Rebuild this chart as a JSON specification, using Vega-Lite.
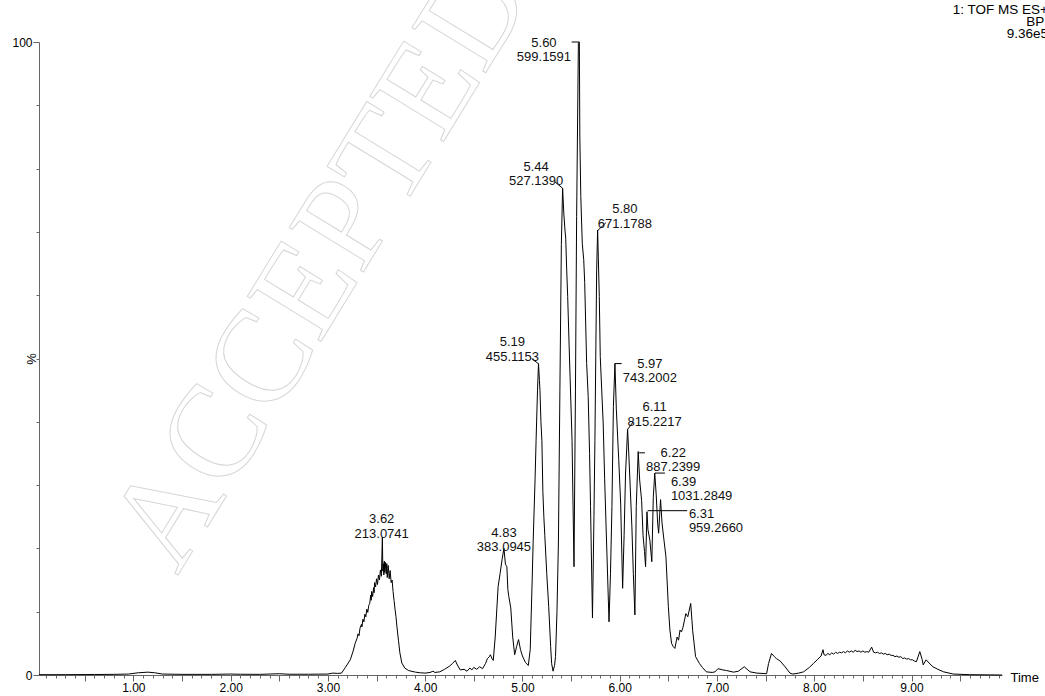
{
  "$schema": "https://vega.github.io/schema/vega-lite/v6.json",
  "width": 963,
  "height": 633,
  "autosize": {"type": "none"},
  "padding": {"left": 39, "top": 42, "right": 43, "bottom": 21},
  "background": "white",
  "config": {"view": {"stroke": null}, "font": "Liberation Sans"},
  "title": {
    "text": ["1: TOF MS ES+\u00a0\u200a", "BPI", "9.36e5"],
    "orient": "bottom",
    "anchor": "end",
    "frame": "group",
    "align": "right",
    "baseline": "top",
    "dx": 46,
    "dy": -690,
    "offset": 0,
    "fontSize": 13.5,
    "fontWeight": "normal",
    "font": "Liberation Sans",
    "color": "black",
    "lineHeight": 12
  },
  "resolve": {"axis": {"x": "independent"}},
  "datasets": {
    "wm": [{"t": 1.45, "v": 15.6, "text": "ACCEPTED"}],
    "trace": [
      {"t": 0.03, "v": 0.05}, {"t": 0.3, "v": 0.05}, {"t": 0.6, "v": 0.08}, {"t": 0.8, "v": 0.1},
      {"t": 0.95, "v": 0.15}, {"t": 1.05, "v": 0.35}, {"t": 1.15, "v": 0.45}, {"t": 1.22, "v": 0.35},
      {"t": 1.3, "v": 0.15}, {"t": 1.5, "v": 0.1}, {"t": 1.8, "v": 0.1}, {"t": 2.0, "v": 0.15},
      {"t": 2.1, "v": 0.12}, {"t": 2.3, "v": 0.1}, {"t": 2.5, "v": 0.2}, {"t": 2.6, "v": 0.12},
      {"t": 2.8, "v": 0.12}, {"t": 3.0, "v": 0.15}, {"t": 3.05, "v": 0.3}, {"t": 3.1, "v": 0.25},
      {"t": 3.14, "v": 0.3}, {"t": 3.18, "v": 1.2}, {"t": 3.23, "v": 2.4}, {"t": 3.26, "v": 3.8},
      {"t": 3.28, "v": 5.0}, {"t": 3.3, "v": 5.8}, {"t": 3.31, "v": 6.5}, {"t": 3.32, "v": 6.2},
      {"t": 3.33, "v": 7.4}, {"t": 3.345, "v": 8.0}, {"t": 3.35, "v": 7.6}, {"t": 3.36, "v": 8.8},
      {"t": 3.37, "v": 8.4}, {"t": 3.38, "v": 9.6}, {"t": 3.39, "v": 9.2}, {"t": 3.4, "v": 10.4},
      {"t": 3.41, "v": 9.9}, {"t": 3.42, "v": 11.0}, {"t": 3.43, "v": 11.3}, {"t": 3.44, "v": 12.6},
      {"t": 3.445, "v": 11.8}, {"t": 3.45, "v": 13.2}, {"t": 3.46, "v": 12.4}, {"t": 3.47, "v": 13.8},
      {"t": 3.475, "v": 13.0}, {"t": 3.48, "v": 14.6}, {"t": 3.49, "v": 13.9}, {"t": 3.5, "v": 15.2},
      {"t": 3.51, "v": 14.3}, {"t": 3.52, "v": 15.8}, {"t": 3.53, "v": 15.0}, {"t": 3.54, "v": 16.6},
      {"t": 3.55, "v": 15.6}, {"t": 3.56, "v": 21.8}, {"t": 3.565, "v": 16.4}, {"t": 3.57, "v": 17.6},
      {"t": 3.575, "v": 15.8}, {"t": 3.58, "v": 18.0}, {"t": 3.585, "v": 16.2}, {"t": 3.59, "v": 17.8},
      {"t": 3.6, "v": 16.0}, {"t": 3.605, "v": 17.6}, {"t": 3.61, "v": 15.4}, {"t": 3.62, "v": 17.3},
      {"t": 3.63, "v": 15.2}, {"t": 3.64, "v": 16.5}, {"t": 3.65, "v": 14.6}, {"t": 3.66, "v": 15.0},
      {"t": 3.67, "v": 13.2}, {"t": 3.68, "v": 11.8}, {"t": 3.69, "v": 10.4}, {"t": 3.7, "v": 9.2},
      {"t": 3.71, "v": 7.6}, {"t": 3.725, "v": 5.5}, {"t": 3.74, "v": 3.5}, {"t": 3.76, "v": 1.9},
      {"t": 3.79, "v": 1.1}, {"t": 3.83, "v": 0.7}, {"t": 3.9, "v": 0.45}, {"t": 3.95, "v": 0.35},
      {"t": 4.0, "v": 0.3}, {"t": 4.05, "v": 0.4}, {"t": 4.08, "v": 0.6}, {"t": 4.1, "v": 0.4},
      {"t": 4.15, "v": 0.5}, {"t": 4.2, "v": 0.9}, {"t": 4.25, "v": 1.4}, {"t": 4.28, "v": 1.8},
      {"t": 4.31, "v": 2.3}, {"t": 4.33, "v": 1.6}, {"t": 4.36, "v": 0.8}, {"t": 4.4, "v": 0.9},
      {"t": 4.43, "v": 0.6}, {"t": 4.46, "v": 1.1}, {"t": 4.48, "v": 0.8}, {"t": 4.5, "v": 1.2},
      {"t": 4.53, "v": 0.9}, {"t": 4.56, "v": 1.3}, {"t": 4.59, "v": 1.0}, {"t": 4.62, "v": 1.8},
      {"t": 4.64, "v": 2.6}, {"t": 4.66, "v": 2.9}, {"t": 4.67, "v": 3.2}, {"t": 4.69, "v": 2.5},
      {"t": 4.7, "v": 2.3}, {"t": 4.72, "v": 6.0}, {"t": 4.75, "v": 14.0}, {"t": 4.77, "v": 16.0},
      {"t": 4.79, "v": 18.2}, {"t": 4.81, "v": 20.0}, {"t": 4.825, "v": 17.5}, {"t": 4.84, "v": 17.1},
      {"t": 4.85, "v": 13.5}, {"t": 4.86, "v": 12.4}, {"t": 4.88, "v": 10.6}, {"t": 4.9, "v": 6.0},
      {"t": 4.92, "v": 3.2}, {"t": 4.94, "v": 4.5}, {"t": 4.96, "v": 5.6}, {"t": 4.98, "v": 4.0},
      {"t": 5.0, "v": 3.0}, {"t": 5.03, "v": 2.0}, {"t": 5.06, "v": 1.5}, {"t": 5.08, "v": 4.0},
      {"t": 5.1, "v": 15.0}, {"t": 5.11, "v": 21.0}, {"t": 5.13, "v": 31.0}, {"t": 5.14, "v": 37.0},
      {"t": 5.155, "v": 45.0}, {"t": 5.165, "v": 49.2}, {"t": 5.175, "v": 46.5}, {"t": 5.18, "v": 45.0},
      {"t": 5.19, "v": 40.0}, {"t": 5.2, "v": 37.0}, {"t": 5.21, "v": 29.0}, {"t": 5.22, "v": 25.0},
      {"t": 5.23, "v": 22.0}, {"t": 5.25, "v": 16.0}, {"t": 5.27, "v": 10.8}, {"t": 5.29, "v": 4.5},
      {"t": 5.3, "v": 1.8}, {"t": 5.315, "v": 0.6}, {"t": 5.33, "v": 1.5}, {"t": 5.34, "v": 2.9},
      {"t": 5.355, "v": 10.0}, {"t": 5.37, "v": 21.0}, {"t": 5.385, "v": 45.0}, {"t": 5.4, "v": 68.0},
      {"t": 5.413, "v": 76.9}, {"t": 5.425, "v": 73.0}, {"t": 5.437, "v": 70.3}, {"t": 5.445, "v": 69.0},
      {"t": 5.455, "v": 64.0}, {"t": 5.465, "v": 59.8}, {"t": 5.48, "v": 52.0}, {"t": 5.49, "v": 47.0},
      {"t": 5.51, "v": 37.0}, {"t": 5.52, "v": 27.0}, {"t": 5.53, "v": 17.1}, {"t": 5.545, "v": 45.0},
      {"t": 5.557, "v": 72.4}, {"t": 5.575, "v": 99.8}, {"t": 5.585, "v": 100.0}, {"t": 5.59, "v": 85.0},
      {"t": 5.6, "v": 75.6}, {"t": 5.615, "v": 68.2}, {"t": 5.63, "v": 65.6}, {"t": 5.64, "v": 62.0},
      {"t": 5.66, "v": 49.2}, {"t": 5.676, "v": 44.0}, {"t": 5.69, "v": 35.0}, {"t": 5.7, "v": 26.6},
      {"t": 5.72, "v": 9.0}, {"t": 5.735, "v": 25.0}, {"t": 5.745, "v": 37.0}, {"t": 5.755, "v": 52.0},
      {"t": 5.763, "v": 64.0}, {"t": 5.773, "v": 70.3}, {"t": 5.78, "v": 66.0}, {"t": 5.79, "v": 59.8},
      {"t": 5.8, "v": 50.3}, {"t": 5.815, "v": 45.0}, {"t": 5.83, "v": 39.8}, {"t": 5.845, "v": 31.0},
      {"t": 5.86, "v": 23.4}, {"t": 5.89, "v": 8.4}, {"t": 5.905, "v": 16.0}, {"t": 5.92, "v": 26.6},
      {"t": 5.935, "v": 42.4}, {"t": 5.951, "v": 49.2}, {"t": 5.965, "v": 42.0}, {"t": 5.99, "v": 34.0},
      {"t": 6.01, "v": 27.0}, {"t": 6.03, "v": 13.7}, {"t": 6.045, "v": 22.0}, {"t": 6.06, "v": 31.9},
      {"t": 6.081, "v": 38.8}, {"t": 6.09, "v": 36.0}, {"t": 6.105, "v": 30.8}, {"t": 6.125, "v": 23.4},
      {"t": 6.14, "v": 16.0}, {"t": 6.156, "v": 9.5}, {"t": 6.17, "v": 26.6}, {"t": 6.19, "v": 35.3},
      {"t": 6.205, "v": 30.8}, {"t": 6.225, "v": 27.6}, {"t": 6.24, "v": 22.0}, {"t": 6.255, "v": 19.5},
      {"t": 6.266, "v": 17.1}, {"t": 6.28, "v": 25.8}, {"t": 6.29, "v": 23.0}, {"t": 6.31, "v": 21.3},
      {"t": 6.33, "v": 17.9}, {"t": 6.345, "v": 28.0}, {"t": 6.36, "v": 31.9}, {"t": 6.375, "v": 28.5},
      {"t": 6.39, "v": 24.0}, {"t": 6.4, "v": 22.4}, {"t": 6.42, "v": 27.7}, {"t": 6.435, "v": 24.0},
      {"t": 6.455, "v": 21.3}, {"t": 6.475, "v": 18.7}, {"t": 6.5, "v": 10.8}, {"t": 6.516, "v": 7.1},
      {"t": 6.533, "v": 5.0}, {"t": 6.55, "v": 4.5}, {"t": 6.567, "v": 4.2}, {"t": 6.59, "v": 6.0},
      {"t": 6.605, "v": 5.5}, {"t": 6.62, "v": 7.1}, {"t": 6.635, "v": 6.8}, {"t": 6.65, "v": 7.5},
      {"t": 6.68, "v": 9.7}, {"t": 6.7, "v": 9.2}, {"t": 6.73, "v": 11.3}, {"t": 6.75, "v": 7.0},
      {"t": 6.78, "v": 2.9}, {"t": 6.82, "v": 1.8}, {"t": 6.85, "v": 1.2}, {"t": 6.89, "v": 0.5},
      {"t": 6.95, "v": 0.4}, {"t": 6.98, "v": 0.5}, {"t": 7.01, "v": 1.0}, {"t": 7.06, "v": 0.8},
      {"t": 7.1, "v": 0.7}, {"t": 7.17, "v": 0.45}, {"t": 7.22, "v": 0.6}, {"t": 7.28, "v": 1.3},
      {"t": 7.34, "v": 0.5}, {"t": 7.41, "v": 0.3}, {"t": 7.51, "v": 0.2}, {"t": 7.53, "v": 1.8},
      {"t": 7.56, "v": 3.4}, {"t": 7.59, "v": 2.9}, {"t": 7.61, "v": 2.6}, {"t": 7.63, "v": 2.4},
      {"t": 7.65, "v": 2.2}, {"t": 7.7, "v": 1.3}, {"t": 7.75, "v": 0.3}, {"t": 7.78, "v": 0.15},
      {"t": 7.84, "v": 0.3}, {"t": 7.89, "v": 0.5}, {"t": 7.95, "v": 1.2}, {"t": 7.99, "v": 1.8},
      {"t": 8.03, "v": 2.4}, {"t": 8.07, "v": 3.0}, {"t": 8.09, "v": 4.0}, {"t": 8.1, "v": 3.2},
      {"t": 8.12, "v": 3.1}, {"t": 8.14, "v": 3.4}, {"t": 8.16, "v": 3.2}, {"t": 8.18, "v": 3.5},
      {"t": 8.2, "v": 3.3}, {"t": 8.22, "v": 3.6}, {"t": 8.24, "v": 3.4}, {"t": 8.26, "v": 3.6},
      {"t": 8.28, "v": 3.5}, {"t": 8.3, "v": 3.7}, {"t": 8.32, "v": 3.5}, {"t": 8.34, "v": 3.8},
      {"t": 8.36, "v": 3.6}, {"t": 8.38, "v": 3.8}, {"t": 8.4, "v": 3.6}, {"t": 8.42, "v": 3.9},
      {"t": 8.44, "v": 3.7}, {"t": 8.46, "v": 3.8}, {"t": 8.48, "v": 3.6}, {"t": 8.5, "v": 3.8},
      {"t": 8.52, "v": 3.6}, {"t": 8.54, "v": 3.7}, {"t": 8.56, "v": 3.6}, {"t": 8.59, "v": 4.4},
      {"t": 8.61, "v": 3.6}, {"t": 8.63, "v": 3.5}, {"t": 8.65, "v": 3.6}, {"t": 8.67, "v": 3.4},
      {"t": 8.69, "v": 3.5}, {"t": 8.71, "v": 3.3}, {"t": 8.73, "v": 3.4}, {"t": 8.75, "v": 3.2},
      {"t": 8.77, "v": 3.3}, {"t": 8.79, "v": 3.1}, {"t": 8.81, "v": 3.1}, {"t": 8.83, "v": 2.9},
      {"t": 8.85, "v": 3.0}, {"t": 8.87, "v": 2.8}, {"t": 8.89, "v": 2.9}, {"t": 8.91, "v": 2.6},
      {"t": 8.93, "v": 2.7}, {"t": 8.95, "v": 2.5}, {"t": 8.97, "v": 2.6}, {"t": 8.99, "v": 2.4},
      {"t": 9.01, "v": 2.4}, {"t": 9.03, "v": 2.2}, {"t": 9.05, "v": 2.1}, {"t": 9.085, "v": 3.7},
      {"t": 9.11, "v": 2.4}, {"t": 9.12, "v": 1.6}, {"t": 9.15, "v": 2.4}, {"t": 9.18, "v": 1.9},
      {"t": 9.22, "v": 1.3}, {"t": 9.27, "v": 0.9}, {"t": 9.33, "v": 0.5}, {"t": 9.43, "v": 0.15},
      {"t": 9.6, "v": 0.05}, {"t": 9.93, "v": 0.0}
    ],
    "labels": [
      {"t": 3.553, "v": 24.6, "label": "3.62\n213.0741", "side": "c"},
      {"t": 4.81, "v": 22.5, "label": "4.83\n383.0945", "side": "c"},
      {"t": 4.897, "v": 52.6, "label": "5.19\n455.1153", "side": "c"},
      {"t": 5.141, "v": 80.3, "label": "5.44\n527.1390", "side": "c"},
      {"t": 5.221, "v": 99.9, "label": "5.60\n599.1591", "side": "c"},
      {"t": 6.053, "v": 73.6, "label": "5.80\n671.1788", "side": "c"},
      {"t": 6.31, "v": 49.2, "label": "5.97\n743.2002", "side": "c"},
      {"t": 6.359, "v": 42.3, "label": "6.11\n815.2217", "side": "c"},
      {"t": 6.55, "v": 35.1, "label": "6.22\n887.2399", "side": "c"},
      {"t": 6.526, "v": 30.5, "label": "6.39\n1031.2849", "side": "l"},
      {"t": 6.711, "v": 25.5, "label": "6.31\n959.2660", "side": "l"}
    ],
    "leaders": [
      {"t": 5.506, "v": 100.0, "t2": 5.584, "v2": 100.0},
      {"t": 5.334, "v": 77.9, "t2": 5.413, "v2": 76.9},
      {"t": 5.858, "v": 71.45, "t2": 5.773, "v2": 70.2},
      {"t": 5.095, "v": 50.0, "t2": 5.162, "v2": 49.2},
      {"t": 5.951, "v": 49.2, "t2": 6.02, "v2": 49.2},
      {"t": 6.139, "v": 40.0, "t2": 6.081, "v2": 38.8},
      {"t": 6.2, "v": 35.1, "t2": 6.259, "v2": 35.1},
      {"t": 6.362, "v": 31.9, "t2": 6.465, "v2": 31.9},
      {"t": 6.287, "v": 25.96, "t2": 6.694, "v2": 25.96}
    ]
  },
  "layer": [
    {
      "data": {"name": "wm"},
      "mark": {"type": "text", "font": "Liberation Serif", "fontSize": 132, "angle": -58.5, "align": "left", "baseline": "alphabetic", "fillOpacity": 0, "stroke": "#d6d6d6", "strokeWidth": 1},
      "encoding": {
        "x": {"field": "t", "type": "quantitative", "axis": null},
        "y": {"field": "v", "type": "quantitative", "title": "%"},
        "text": {"field": "text"}
      }
    },
    {
      "data": {"name": "trace"},
      "mark": {"type": "line", "color": "black", "strokeWidth": 1, "interpolate": "linear"},
      "encoding": {
        "x": {
          "field": "t", "type": "quantitative",
          "scale": {"domain": [0.03, 9.93], "nice": false, "zero": false},
          "axis": {
            "orient": "bottom",
            "values": [0.1,0.2,0.3,0.4,0.5,0.6,0.7,0.8,0.9,1,1.1,1.2,1.3,1.4,1.5,1.6,1.7,1.8,1.9,2,2.1,2.2,2.3,2.4,2.5,2.6,2.7,2.8,2.9,3,3.1,3.2,3.3,3.4,3.5,3.6,3.7,3.8,3.9,4,4.1,4.2,4.3,4.4,4.5,4.6,4.7,4.8,4.9,5,5.1,5.2,5.3,5.4,5.5,5.6,5.7,5.8,5.9,6,6.1,6.2,6.3,6.4,6.5,6.6,6.7,6.8,6.9,7,7.1,7.2,7.3,7.4,7.5,7.6,7.7,7.8,7.9,8,8.1,8.2,8.3,8.4,8.5,8.6,8.7,8.8,8.9,9,9.1,9.2,9.3,9.4,9.5,9.6,9.7,9.8,9.9],
            "title": null,
            "labels": false,
            "tickSize": 3,
            "tickColor": "#666666", "domainColor": "#666666", "grid": false
          }
        },
        "y": {
          "field": "v", "type": "quantitative",
          "scale": {"domain": [0, 100], "nice": false, "zero": true},
          "axis": {
            "values": [0,10,20,30,40,50,60,70,80,90,100],
            "title": "%",
            "titleX": -8, "titleY": 316.5, "titleAlign": "center", "titleBaseline": "middle", "titleAngle": 270,
            "titleFontSize": 13, "titleFontWeight": "normal", "titleColor": "black", "titleFont": "Liberation Sans",
            "labelExpr": "(datum.value == 0 || datum.value == 100) ? '' + datum.value : ''",
            "labelFontSize": 12, "labelColor": "black", "labelFont": "Liberation Sans", "labelPadding": 1,
            "labelFlush": false, "labelOverlap": false, "labelBound": false,
            "tickSize": {"condition": {"test": "datum.value == 0 || datum.value == 100", "value": 6}, "value": 3},
            "tickColor": "#666666", "domainColor": "#666666", "grid": false
          }
        }
      }
    },
    {
      "data": {"name": "leaders"},
      "mark": {"type": "rule", "color": "black", "strokeWidth": 1},
      "encoding": {
        "x": {
          "field": "t", "type": "quantitative",
          "axis": {
            "orient": "bottom",
            "values": [0.5,1,1.5,2,2.5,3,3.5,4,4.5,5,5.5,6,6.5,7,7.5,8,8.5,9,9.5],
            "domain": false,
            "title": "Time",
            "titleX": 971, "titleY": 2, "titleAlign": "left", "titleBaseline": "middle",
            "titleFontSize": 13, "titleFontWeight": "normal", "titleColor": "black", "titleFont": "Liberation Sans",
            "labelExpr": "abs(datum.value - round(datum.value)) < 0.001 ? format(datum.value, '.2f') : ''",
            "labelFontSize": 12, "labelColor": "black", "labelFont": "Liberation Sans", "labelPadding": 1,
            "labelFlush": false, "labelOverlap": false, "labelBound": false,
            "tickSize": 6,
            "tickColor": "#666666", "grid": false
          }
        },
        "x2": {"field": "t2"},
        "y": {"field": "v", "type": "quantitative", "title": "%"},
        "y2": {"field": "v2"}
      }
    },
    {
      "data": {"name": "labels"},
      "transform": [{"filter": "datum.side == 'c'"}],
      "mark": {"type": "text", "align": "center", "baseline": "middle", "lineBreak": "\n", "lineHeight": 14.5, "fontSize": 13, "font": "Liberation Sans", "color": "#111111"},
      "encoding": {
        "x": {"field": "t", "type": "quantitative", "axis": null},
        "y": {"field": "v", "type": "quantitative", "title": "%"},
        "text": {"field": "label"}
      }
    },
    {
      "data": {"name": "labels"},
      "transform": [{"filter": "datum.side == 'l'"}],
      "mark": {"type": "text", "align": "left", "baseline": "middle", "lineBreak": "\n", "lineHeight": 14.5, "fontSize": 13, "font": "Liberation Sans", "color": "#111111"},
      "encoding": {
        "x": {"field": "t", "type": "quantitative", "axis": null},
        "y": {"field": "v", "type": "quantitative", "title": "%"},
        "text": {"field": "label"}
      }
    }
  ]
}
